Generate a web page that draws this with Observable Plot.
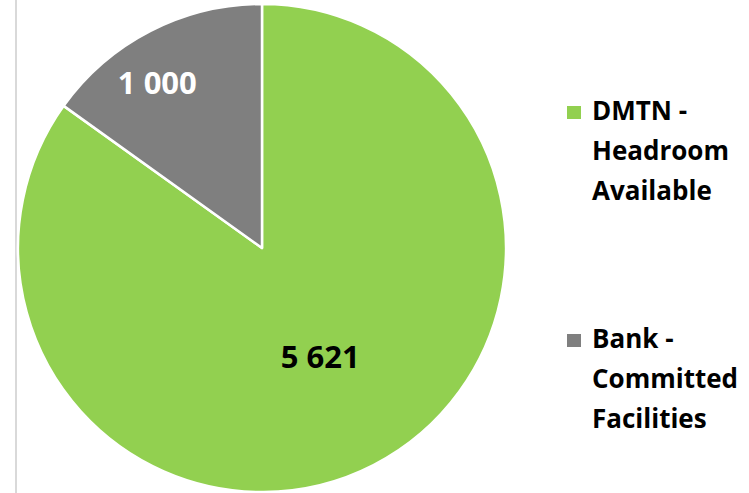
<!DOCTYPE html>
<html>
<head>
<meta charset="utf-8">
<script src="https://cdn.jsdelivr.net/npm/d3@7"></script>
<script src="https://cdn.jsdelivr.net/npm/@observablehq/plot@0.6"></script>
<style>
  html, body { margin: 0; padding: 0; background: #fff; }
  #wrap { position: relative; width: 749px; height: 493px; overflow: hidden; font-family: "Open Sans", Lato, sans-serif; }
  #wrap .vline { position: absolute; left: 15px; top: 0; width: 2px; height: 493px; background: #d9d9d9; }
  .legend { position: absolute; left: 567px; font-weight: 700; font-size: 26px; line-height: 40px; color: #000; }
  .legend .sw { position: absolute; left: 0; width: 14px; height: 13px; }
  .legend .tx { position: absolute; left: 25px; white-space: nowrap; }
</style>
</head>
<body>
<div id="wrap"><div class="vline"></div></div>
<script>
const categories = ["DMTN - Headroom Available", "Bank - Committed Facilities"];
const legendLines = [["DMTN -", "Headroom", "Available"], ["Bank -", "Committed", "Facilities"]];
const values = [5621, 1000];
const valueLabels = ["5 621", "1 000"];
const colors = ["#92D050", "#7F7F7F"];
const labelColors = ["#000000", "#FFFFFF"];

const slices = d3.pie().sort(null).value(d => d.value)(
  categories.map((c, i) => ({category: c, value: values[i], label: valueLabels[i], labelColor: labelColors[i]}))
);
const labelRadius = [0.5, 0.8];
const labelData = slices.map((s, i) => {
  const a = (s.startAngle + s.endAngle) / 2;
  return {...s.data, x: labelRadius[i] * Math.sin(a), y: labelRadius[i] * Math.cos(a)};
});

function pieSlices(index, scales, values, dims, context) {
  const cx = scales.x(0), cy = scales.y(0), r = scales.x(1) - scales.x(0);
  const arc = d3.arc().innerRadius(0).outerRadius(r);
  const g = d3.create("svg:g").attr("transform", `translate(${cx},${cy})`);
  g.selectAll("path").data(slices).join("path")
    .attr("d", arc)
    .attr("fill", d => scales.color(d.data.category))
    .attr("stroke", "#fff")
    .attr("stroke-width", 2.5)
    .attr("stroke-linejoin", "round");
  return g.node();
}

const plot = Plot.plot({
  width: 749,
  height: 493,
  margin: 0,
  x: {domain: [-1, 1], range: [18, 506], axis: null},
  y: {domain: [-1, 1], range: [492, 4], axis: null},
  color: {domain: categories, range: colors},
  style: {background: "transparent", fontFamily: "'Open Sans', Lato, sans-serif"},
  marks: [
    pieSlices,
    Plot.text(labelData.filter(d => d.category === categories[0]), {
      x: "x", y: "y", text: "label", fill: "labelColor",
      fontSize: 31, fontWeight: 700, dx: 2, dy: 1
    }),
    Plot.text(labelData.filter(d => d.category === categories[1]), {
      x: "x", y: "y", text: "label", fill: "labelColor",
      fontSize: 31, fontWeight: 700, dx: -16, dy: 9
    })
  ]
});
plot.style.position = "absolute";
plot.style.left = "0px";
plot.style.top = "0px";
const wrap = document.getElementById("wrap");
wrap.appendChild(plot);

const colorScale = plot.scale("color");
const legendTops = [90, 318];
categories.forEach((c, i) => {
  const div = document.createElement("div");
  div.className = "legend";
  div.style.top = legendTops[i] + "px";
  const sw = document.createElement("div");
  sw.className = "sw";
  sw.style.top = "16px";
  sw.style.background = colorScale.range[colorScale.domain.indexOf(c)];
  div.appendChild(sw);
  legendLines[i].forEach((line, j) => {
    const t = document.createElement("div");
    t.className = "tx";
    t.style.top = (j * 40) + "px";
    t.textContent = line;
    div.appendChild(t);
  });
  wrap.appendChild(div);
});
</script>
</body>
</html>
